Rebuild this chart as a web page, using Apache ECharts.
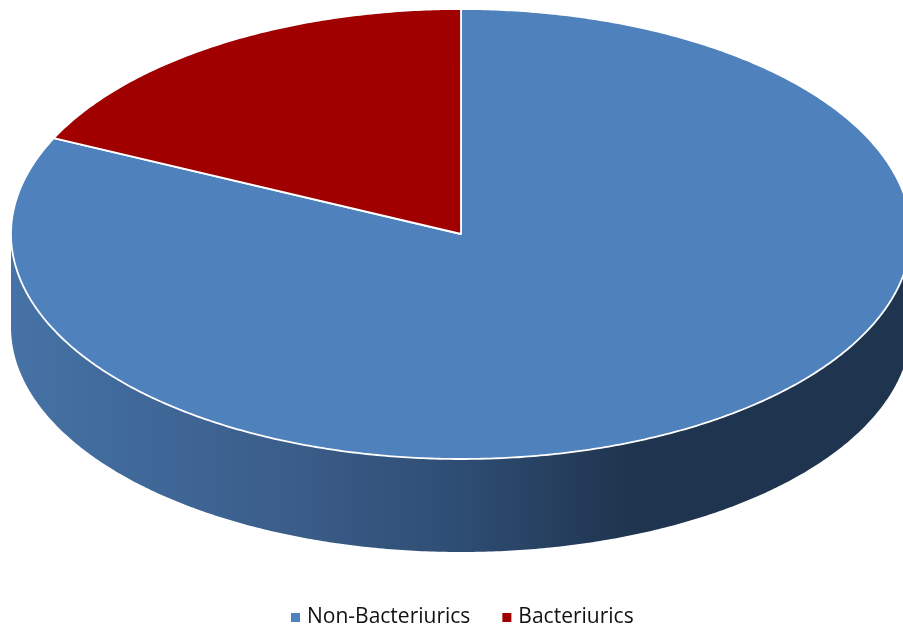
<!DOCTYPE html>
<html><head><meta charset="utf-8">
<style>html,body{margin:0;padding:0;background:#fff}#c{width:903px;height:628px}</style>
<script src="https://cdn.jsdelivr.net/npm/echarts@6/dist/echarts.min.js"></script>
</head><body><div id="c"></div>
<script>
const categories = ['Non-Bacteriurics', 'Bacteriurics'];
const values = [82, 18];
const colors = ['#4f81bd', '#a00000'];

const CX = 461, CY = 234, RX = 450, RY = 225, DEPTH = 93;
const total = values.reduce((a, b) => a + b, 0);
const chart = echarts.init(document.getElementById('c'), null, {renderer: 'canvas'});

const pt = (deg, dy) => {
  const t = deg * Math.PI / 180;
  return [CX + RX * Math.sin(t), CY - RY * Math.cos(t) + (dy || 0)];
};
function arc(a, b, dy) {
  const out = [], n = Math.max(2, Math.ceil(Math.abs(b - a) * 2));
  for (let i = 0; i <= n; i++) out.push(pt(a + (b - a) * i / n, dy));
  return out;
}
const sideFill = {
  type: 'linear', x: 0, y: 0, x2: 1, y2: 0,
  colorStops: [
    {offset: 0, color: '#4672a5'},
    {offset: 0.12, color: '#406a9b'},
    {offset: 0.3, color: '#3b5e8b'},
    {offset: 0.5, color: '#2e4d73'},
    {offset: 0.69, color: '#1f344e'},
    {offset: 1, color: '#1f344e'}
  ]
};
function sliceItem(idx) {
  return function (params, api) {
    let before = 0;
    for (let i = 0; i < idx; i++) before += values[i];
    const a = before / total * 360;
    const b = a + api.value(0) / total * 360;
    const children = [];
    const f = Math.max(a, 90), t = Math.min(b, 270);
    if (t > f) {
      const top = arc(f, t, 0), bottom = arc(t, f, DEPTH);
      children.push({
        type: 'polygon',
        shape: {points: top.concat(bottom)},
        style: {fill: sideFill}
      });
    }
    const pts = [[CX, CY]].concat(arc(a, b, 0));
    children.push({
      type: 'polygon',
      shape: {points: pts},
      style: {fill: colors[idx], stroke: '#fff', lineWidth: 1.8, lineJoin: 'round'}
    });
    return {type: 'group', children};
  };
}
chart.setOption({
  animation: false,
  color: colors,
  legend: {
    data: categories.map(n => ({name: n, icon: 'rect'})),
    left: 291, top: 607, padding: 0,
    itemWidth: 9, itemHeight: 9, itemGap: 32,
    textStyle: {fontFamily: '"Open Sans"', fontSize: 21, color: '#111', padding: [0, 0, 0, 2]}
  },
  series: categories.map((name, i) => ({
    type: 'custom',
    name,
    coordinateSystem: 'none',
    silent: true,
    z: i === 0 ? 2 : 3,
    renderItem: sliceItem(i),
    data: [[values[i]]],
    itemStyle: {color: colors[i]}
  }))
});
</script></body></html>
